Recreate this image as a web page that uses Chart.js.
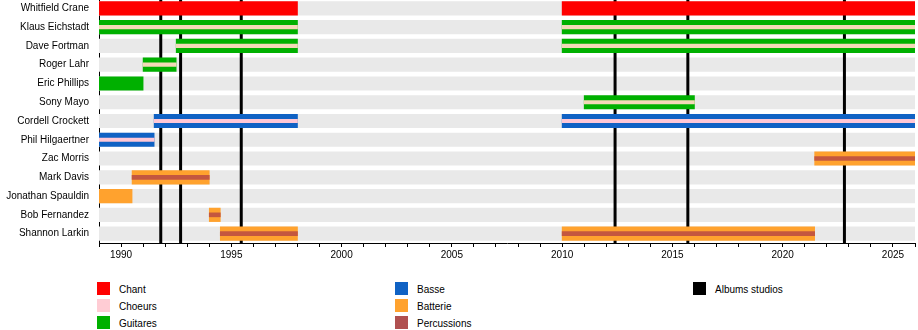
<!DOCTYPE html>
<html>
<head>
<meta charset="utf-8">
<script src="https://cdn.jsdelivr.net/npm/chart.js@4"></script>
<style>
body { margin: 0; background: #fff; font-family: "Liberation Sans", Arial, sans-serif; }
#wrap { position: relative; width: 918px; height: 330px; overflow: hidden; }
#chartBox { position: absolute; left: 0; top: -1px; width: 918px; height: 264px; }
.sw { position: absolute; width: 13px; height: 13px; }
.lg { position: absolute; font-size: 10px; line-height: 13px; color: #000; white-space: nowrap; }
</style>
</head>
<body>
<div id="wrap">
  <div id="chartBox"><canvas id="timeline"></canvas></div>
  <div id="legend"></div>
</div>
<script>
// Membres (ordre des lignes)
const members = ['Whitfield Crane', 'Klaus Eichstadt', 'Dave Fortman', 'Roger Lahr', 'Eric Phillips',
  'Sony Mayo', 'Cordell Crockett', 'Phil Hilgaertner', 'Zac Morris', 'Mark Davis',
  'Jonathan Spauldin', 'Bob Fernandez', 'Shannon Larkin'];

// Périodes : [membre, début, fin]
const chant = [['Whitfield Crane', 1989, 1998], ['Whitfield Crane', 2010, 2026]];
const guitares = [
  ['Klaus Eichstadt', 1989, 1998], ['Klaus Eichstadt', 2010, 2026],
  ['Dave Fortman', 1992.5, 1998], ['Dave Fortman', 2010, 2026],
  ['Roger Lahr', 1991, 1992.5], ['Eric Phillips', 1989, 1991], ['Sony Mayo', 2011, 2016]
];
const basse = [['Cordell Crockett', 1991.5, 1998], ['Cordell Crockett', 2010, 2026], ['Phil Hilgaertner', 1989, 1991.5]];
const batterie = [
  ['Zac Morris', 2021.45, 2026], ['Mark Davis', 1990.5, 1994], ['Jonathan Spauldin', 1989, 1990.5],
  ['Bob Fernandez', 1994, 1994.5], ['Shannon Larkin', 1994.5, 1998], ['Shannon Larkin', 2010, 2021.45]
];
const choeurs = [
  ['Klaus Eichstadt', 1989, 1998], ['Klaus Eichstadt', 2010, 2026],
  ['Dave Fortman', 1992.5, 1998], ['Dave Fortman', 2010, 2026],
  ['Roger Lahr', 1991, 1992.5], ['Sony Mayo', 2011, 2016],
  ['Cordell Crockett', 1991.5, 1998], ['Cordell Crockett', 2010, 2026], ['Phil Hilgaertner', 1989, 1991.5]
];
const percussions = [
  ['Zac Morris', 2021.45, 2026], ['Mark Davis', 1990.5, 1994], ['Bob Fernandez', 1994, 1994.5],
  ['Shannon Larkin', 1994.5, 1998], ['Shannon Larkin', 2010, 2021.45]
];
const albums = [1991.8, 1992.7, 1995.45, 2012.4, 2015.7, 2022.8];

const yearStart = 1989;
const yearEnd = 2026;

const legendLabels = ['Chant', 'Choeurs', 'Guitares', 'Basse', 'Batterie', 'Percussions', 'Albums studios'];
const colors = {
  Chant: '#ff0000', Choeurs: '#ffccd4', Guitares: '#00b000', Basse: '#1062c4',
  Batterie: '#ffa22e', Percussions: '#b05050', 'Albums studios': '#000000'
};

const bassMembers = basse.map(p => p[0]);

// Une ligne de données par période (1re, 2e...) alignée sur les membres
function splitPeriods(list) {
  const rows = [];
  const seen = {};
  list.forEach(([m, a, b]) => {
    const k = seen[m] || 0;
    seen[m] = k + 1;
    if (!rows[k]) rows[k] = members.map(() => null);
    rows[k][members.indexOf(m)] = [a, b];
  });
  return rows;
}

// order : plus grand = dessiné plus tôt (dessous)
function barSets(label, list, color, thickness, order) {
  return splitPeriods(list).map(data => ({
    label: label,
    data: data,
    backgroundColor: color,
    borderWidth: 0,
    borderSkipped: false,
    barThickness: thickness,
    order: order
  }));
}

// Lignes verticales des albums, dessinées juste après le fond gris
const albumLines = {
  id: 'albumLines',
  afterDatasetDraw(chart, args) {
    if (args.index !== 0) return;
    const ctx = chart.ctx;
    const area = chart.chartArea;
    const x = chart.scales.x;
    ctx.save();
    ctx.strokeStyle = '#000';
    ctx.lineWidth = 3;
    albums.forEach(year => {
      const px = x.getPixelForValue(year);
      ctx.beginPath();
      ctx.moveTo(px, area.top);
      ctx.lineTo(px, area.bottom);
      ctx.stroke();
    });
    ctx.restore();
  }
};

const choeursColor = c => (bassMembers.includes(members[c.dataIndex]) ? '#ffc8d6' : '#f3d9b8');

new Chart(document.getElementById('timeline'), {
  type: 'bar',
  data: {
    labels: members,
    datasets: [
      ...barSets('fond', members.map(m => [m, yearStart, yearEnd]), '#e9e9e9', 13.5, 10),
      ...barSets('Chant', chant, colors.Chant, 13.5, 5),
      ...barSets('Guitares', guitares, colors.Guitares, 13.5, 5),
      ...barSets('Basse', basse, colors.Basse, 13.5, 5),
      ...barSets('Batterie', batterie, colors.Batterie, 13.5, 5),
      ...barSets('Choeurs', choeurs, choeursColor, 3.5, 1),
      ...barSets('Percussions', percussions, '#c4573f', 4, 1)
    ]
  },
  options: {
    indexAxis: 'y',
    responsive: true,
    maintainAspectRatio: false,
    animation: false,
    layout: { padding: { top: 0, right: 3, left: 0, bottom: 0 } },
    plugins: {
      legend: { display: false },
      tooltip: { enabled: false }
    },
    scales: {
      x: {
        type: 'linear',
        min: yearStart,
        max: yearEnd,
        border: { display: true, color: '#000', width: 1 },
        grid: { drawOnChartArea: false, tickLength: 4, tickColor: '#000' },
        afterFit: scale => {
          scale.paddingLeft = 0;
          scale.paddingRight = 0;
        },
        ticks: {
          stepSize: 1,
          autoSkip: false,
          maxRotation: 0,
          color: '#000',
          padding: 2,
          font: { family: '"Liberation Sans", Arial, sans-serif', size: 10 },
          callback: v => (v % 5 === 0 ? String(v) : '')
        }
      },
      y: {
        type: 'category',
        stacked: true,
        offset: true,
        border: { display: true, color: '#000', width: 1 },
        grid: { display: false, drawTicks: false },
        afterFit: scale => {
          scale.width = 99;
          scale.paddingTop = 0;
          scale.paddingBottom = 0;
        },
        ticks: {
          color: '#000',
          padding: 10,
          font: { family: '"Liberation Sans", Arial, sans-serif', size: 10 }
        }
      }
    }
  },
  plugins: [albumLines]
});

// Légende en trois colonnes
const legend = document.getElementById('legend');
const colX = [97, 395, 693];
const rowY = [282, 299, 316];
const placement = [[0, 0], [0, 1], [0, 2], [1, 0], [1, 1], [1, 2], [2, 0]];
legendLabels.forEach((name, i) => {
  const [c, r] = placement[i];
  const sw = document.createElement('div');
  sw.className = 'sw';
  sw.style.left = colX[c] + 'px';
  sw.style.top = rowY[r] + 'px';
  sw.style.background = colors[name];
  legend.appendChild(sw);
  const tx = document.createElement('div');
  tx.className = 'lg';
  tx.style.left = (colX[c] + 22) + 'px';
  tx.style.top = (rowY[r] + 1) + 'px';
  tx.textContent = name;
  legend.appendChild(tx);
});
</script>
</body>
</html>
